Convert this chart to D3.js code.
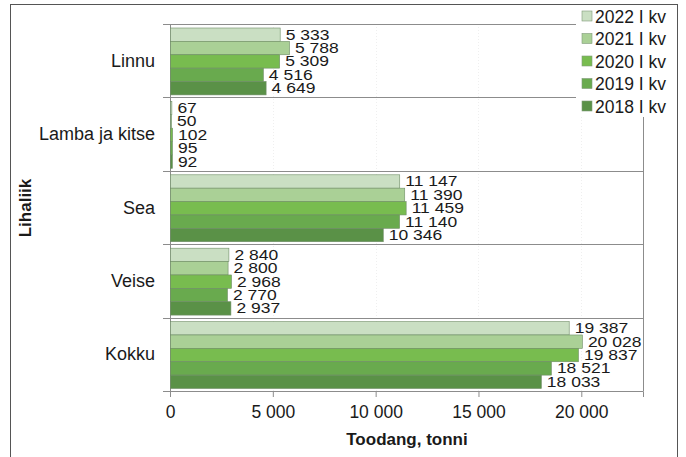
<!DOCTYPE html>
<html>
<head>
<meta charset="utf-8">
<script src="https://cdn.jsdelivr.net/npm/d3@7"></script>
<style>
  body { margin: 0; background: #fff; }
  text { font-family: "Liberation Sans", Arial, sans-serif; fill: #1a1a1a; }
</style>
</head>
<body>
<div id="chart"></div>
<script>
// categories top to bottom
const categories = ["Linnu", "Lamba ja kitse", "Sea", "Veise", "Kokku"];
const seriesNames = ["2022 I kv", "2021 I kv", "2020 I kv", "2019  I kv", "2018 I kv"];
const v2022 = [5333, 67, 11147, 2840, 19387];
const v2021 = [5788, 50, 11390, 2800, 20028];
const v2020 = [5309, 102, 11459, 2968, 19837];
const v2019 = [4516, 95, 11140, 2770, 18521];
const v2018 = [4649, 92, 10346, 2937, 18033];
const xTicks = [0, 5000, 10000, 15000, 20000];
const colors = ["#cadfc3", "#aad096", "#78bc4f", "#69aa4e", "#5a9147"];

const series = [v2022, v2021, v2020, v2019, v2018];

const W = 686, H = 457;
const margin = { top: 24, right: 43, bottom: 66, left: 170 };
const width = W - margin.left - margin.right,
      height = H - margin.top - margin.bottom;

const svg = d3.select("#chart").append("svg")
    .attr("width", W).attr("height", H);

// outer frame
svg.append("rect")
   .attr("x", 10.5).attr("y", 4.5)
   .attr("width", 667).attr("height", 470)
   .attr("fill", "none").attr("stroke", "#555").attr("stroke-width", 1);

const g = svg.append("g").attr("transform", `translate(${margin.left},${margin.top})`);

const x = d3.scaleLinear().domain([0, 23000]).range([0, width]);
const y = d3.scaleBand().domain(categories).range([0, height]);
const inner = d3.scaleBand().domain(d3.range(5))
    .range([4, y.bandwidth() - 2.5]);

const fmt = v => d3.format(",")(v).replace(/,/g, " ");

// faint gridlines
g.selectAll(".grid").data(xTicks.slice(1)).join("line")
  .attr("x1", d => Math.round(x(d)) + 0.5).attr("x2", d => Math.round(x(d)) + 0.5)
  .attr("y1", 0).attr("y2", height)
  .attr("stroke", "#efefef").attr("stroke-dasharray", "1,2");

// category separators
const bounds = d3.range(categories.length + 1).map(i => i * y.step());
g.selectAll(".sep").data(bounds).join("line")
  .attr("x1", -7).attr("x2", width)
  .attr("y1", d => Math.round(d) + 0.5).attr("y2", d => Math.round(d) + 0.5)
  .attr("stroke", "#8c8c8c");

// right border and left axis
g.append("line").attr("x1", width + 0.5).attr("x2", width + 0.5)
  .attr("y1", 0).attr("y2", height).attr("stroke", "#8c8c8c");
g.append("line").attr("x1", 0.5).attr("x2", 0.5)
  .attr("y1", 0).attr("y2", height).attr("stroke", "#8c8c8c");

// bars
const bars = [];
categories.forEach((c, ci) => {
  series.forEach((s, si) => bars.push({ c, si, v: s[ci] }));
});

g.selectAll(".bar").data(bars).join("rect")
  .attr("x", 0.5)
  .attr("y", d => y(d.c) + inner(d.si))
  .attr("width", d => x(d.v))
  .attr("height", inner.bandwidth())
  .attr("fill", d => colors[d.si])
  .attr("stroke", "#6f8d66").attr("stroke-width", 0.6);

// value labels, glyphs a bit wider like the original
g.selectAll(".lbl").data(bars).join("text")
  .attr("transform", d => `translate(${x(d.v) + 6},${y(d.c) + inner(d.si) + inner.bandwidth() / 2 + 5}) scale(1.13,1)`)
  .style("font-size", "15.5px")
  .text(d => fmt(d.v));

// x axis
const xAxis = g.append("g")
  .attr("transform", `translate(0,${height})`)
  .call(d3.axisBottom(x).tickValues(xTicks).tickSize(6).tickPadding(9)
        .tickFormat(fmt));
xAxis.select(".domain").attr("stroke", "#8c8c8c");
xAxis.selectAll(".tick line").attr("stroke", "#8c8c8c");
xAxis.selectAll("text").style("font-size", "17.5px").attr("fill", "#1a1a1a");

// category labels
g.selectAll(".cat").data(categories).join("text")
  .attr("x", -15)
  .attr("y", d => y(d) + y.bandwidth() / 2 + 6)
  .attr("text-anchor", "end")
  .style("font-size", "18px")
  .text(d => d);

// axis titles
svg.append("text")
  .attr("x", 407).attr("y", 445)
  .attr("text-anchor", "middle")
  .style("font-size", "17px").style("font-weight", "bold")
  .text("Toodang, tonni");

svg.append("text")
  .attr("transform", "rotate(-90)")
  .attr("x", -208).attr("y", 31)
  .attr("text-anchor", "middle")
  .style("font-size", "17px").style("font-weight", "bold")
  .text("Lihaliik");

// legend
const legend = svg.append("g");
legend.append("rect").attr("x", 576).attr("y", 5)
  .attr("width", 101).attr("height", 112).attr("fill", "#fff");
const li = legend.selectAll(".li").data(seriesNames).join("g")
  .attr("transform", (d, i) => `translate(582,${16 + i * 22.5})`);
li.append("rect").attr("x", 0).attr("y", -5).attr("width", 10).attr("height", 10)
  .attr("fill", (d, i) => colors[i]).attr("stroke", "#7f9a78").attr("stroke-width", 0.6);
li.append("text").attr("x", 13).attr("y", 6.5)
  .style("font-size", "17.5px")
  .text(d => d);
</script>
</body>
</html>
